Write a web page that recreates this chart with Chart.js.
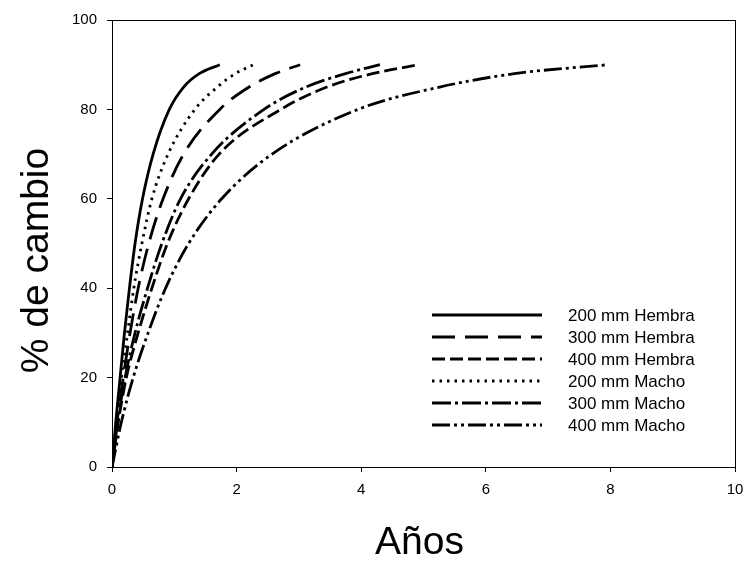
<!DOCTYPE html>
<html lang="es">
<head>
<meta charset="utf-8">
<title>% de cambio vs Años</title>
<script src="https://cdn.jsdelivr.net/npm/chart.js@4.4.1/dist/chart.umd.min.js"></script>
<style>
    html, body { margin: 0; padding: 0; background: #fff; }
    #wrap { width: 745px; height: 563px; position: relative; }
</style>
</head>
<body>
<div id="wrap"><canvas id="chart" width="745" height="563"></canvas></div>
<script>
// ============================================================
// Data — years needed to reach each % of change
// ============================================================

const pctLevels = [0, 10, 20, 30, 40, 50, 60, 70, 80, 85, 88, 90];

const years200Hembra = [0, 0.06, 0.13, 0.20, 0.28, 0.37, 0.49, 0.66, 0.92, 1.15, 1.40, 1.73];
const years300Hembra = [0, 0.08, 0.18, 0.29, 0.42, 0.59, 0.82, 1.15, 1.73, 2.20, 2.62, 3.02];
const years400Hembra = [0, 0.10, 0.23, 0.42, 0.64, 0.89, 1.23, 1.72, 2.71, 3.45, 4.18, 4.92];
const years200Macho  = [0, 0.07, 0.15, 0.25, 0.35, 0.48, 0.64, 0.90, 1.33, 1.69, 1.98, 2.27];
const years300Macho  = [0, 0.09, 0.21, 0.37, 0.57, 0.80, 1.10, 1.60, 2.44, 3.11, 3.75, 4.30];
const years400Macho  = [0, 0.15, 0.34, 0.58, 0.86, 1.23, 1.76, 2.57, 3.95, 5.26, 6.46, 7.96];

const seriesLabels = [
    "200 mm Hembra", "300 mm Hembra", "400 mm Hembra",
    "200 mm Macho", "300 mm Macho", "400 mm Macho"
];
const seriesYears = [
    years200Hembra, years300Hembra, years400Hembra,
    years200Macho, years300Macho, years400Macho
];

const xTicks = [0, 2, 4, 6, 8, 10];
const yTicks = [0, 20, 40, 60, 80, 100];

// line styles (solid, long dash, dash, dot, dash-dot, dash-dot-dot)
const dashes = [
    [],
    [23, 10],
    [13, 5],
    [2.5, 5],
    [19, 4, 3, 4],
    [18, 4, 3, 4, 3, 4]
];

const FONT = "'Liberation Sans', Arial, Helvetica, sans-serif";

// ============================================================
// Plugins — frame, axis titles, legend
// ============================================================

const framePlugin = {
    id: "frame",
    afterDatasetsDraw(chart) {
        const { ctx, chartArea: a } = chart;
        ctx.save();
        ctx.strokeStyle = "#000";
        ctx.lineWidth = 1;
        ctx.strokeRect(a.left + 0.5, a.top + 0.5, a.right - a.left, a.bottom - a.top);
        ctx.restore();
    }
};

const titlesPlugin = {
    id: "titles",
    afterDraw(chart) {
        const { ctx, chartArea: a } = chart;
        ctx.save();
        ctx.fillStyle = "#000";
        ctx.font = `39px ${FONT}`;
        ctx.textAlign = "center";
        ctx.textBaseline = "alphabetic";
        ctx.fillText("Años", (a.left + a.right) / 2 - 4, 554);

        ctx.translate(48, (a.top + a.bottom) / 2 + 17);
        ctx.rotate(-Math.PI / 2);
        ctx.fillText("% de cambio", 0, 0);
        ctx.restore();
    }
};

const legendPlugin = {
    id: "customLegend",
    afterDraw(chart) {
        const { ctx } = chart;
        const x0 = 432, x1 = 542, tx = 568, y0 = 315, dy = 22;
        ctx.save();
        ctx.font = `17px ${FONT}`;
        ctx.textBaseline = "middle";
        ctx.textAlign = "left";
        chart.data.datasets.forEach((ds, i) => {
            const y = y0 + i * dy;
            ctx.strokeStyle = "#000";
            ctx.lineWidth = ds.borderWidth;
            ctx.setLineDash(ds.borderDash || []);
            ctx.beginPath();
            ctx.moveTo(x0, y);
            ctx.lineTo(x1, y);
            ctx.stroke();
            ctx.setLineDash([]);
            ctx.fillStyle = "#000";
            ctx.fillText(ds.label, tx, y + 1);
        });
        ctx.restore();
    }
};

// ============================================================
// Chart
// ============================================================

const datasets = seriesLabels.map((label, i) => ({
    label,
    data: seriesYears[i].map((t, j) => ({ x: t, y: pctLevels[j] })),
    showLine: true,
    borderColor: "#000",
    borderWidth: 2.8,
    borderDash: dashes[i],
    borderCapStyle: "butt",
    pointRadius: 0,
    fill: false,
    cubicInterpolationMode: "monotone"
}));

new Chart(document.getElementById("chart").getContext("2d"), {
    type: "scatter",
    data: { datasets },
    options: {
        responsive: false,
        animation: false,
        layout: { padding: { top: 20, right: 10, left: 0, bottom: 0 } },
        plugins: {
            legend: { display: false },
            tooltip: { enabled: false }
        },
        scales: {
            x: {
                type: "linear",
                min: 0,
                max: 10,
                afterBuildTicks: s => { s.ticks = xTicks.map(v => ({ value: v })); },
                afterFit: s => { s.height = 96; s.paddingRight = 0; s.paddingLeft = 0; },
                ticks: { color: "#000", font: { family: FONT, size: 15 }, padding: 9, maxRotation: 0 },
                grid: { drawOnChartArea: false, drawTicks: true, tickLength: 5, color: "#000" },
                border: { display: true, color: "#000", width: 1 }
            },
            y: {
                type: "linear",
                min: 0,
                max: 100,
                afterBuildTicks: s => { s.ticks = yTicks.map(v => ({ value: v })); },
                afterFit: s => { s.width = 112; s.paddingTop = 0; s.paddingBottom = 0; },
                ticks: { color: "#000", font: { family: FONT, size: 15 }, padding: 10 },
                grid: { drawOnChartArea: false, drawTicks: true, tickLength: 5, color: "#000" },
                border: { display: true, color: "#000", width: 1 }
            }
        }
    },
    plugins: [framePlugin, titlesPlugin, legendPlugin]
});
</script>
</body>
</html>
